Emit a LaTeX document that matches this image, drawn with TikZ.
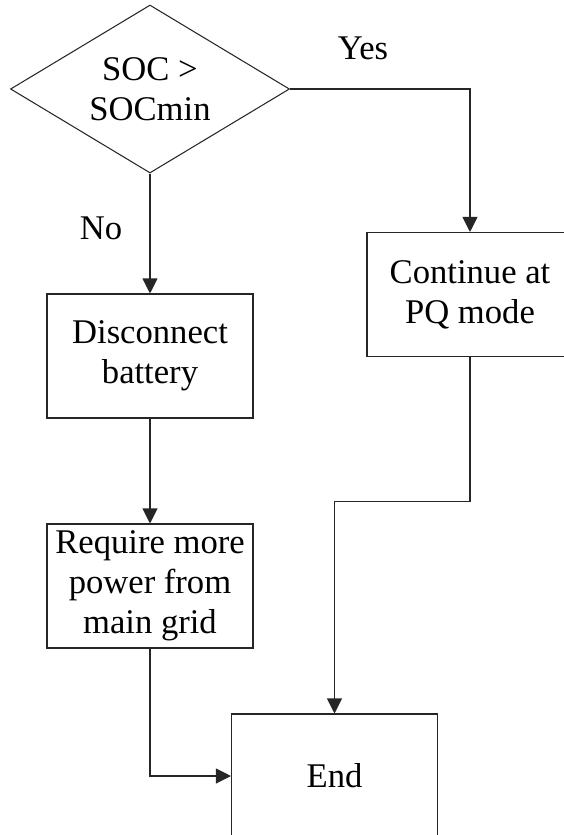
\documentclass[tikz,border=0pt]{standalone}
\usepackage{fontspec}
\setmainfont{Liberation Serif}
\usetikzlibrary{arrows.meta,shapes.geometric}

\begin{document}
\begin{tikzpicture}[
  dbox/.style = {draw=black!85, diamond, aspect=1.66, inner sep=0pt,
                 line width=0.6pt, minimum width=5.58cm,
                 minimum height=3.36cm, align=center,
                 font=\fontsize{19.7}{22.8}\selectfont},
  sbox/.style = {draw=black!85, line width=0.6pt, inner sep=2pt,
                 minimum width=4.12cm, minimum height=2.48cm,
                 align=center, font=\fontsize{19.7}{22.8}\selectfont},
  arr/.style  = {-{Triangle[length=0.3cm,width=0.3cm]},
                 line width=0.6pt, black!85},
  lbl/.style  = {font=\fontsize{19.7}{22.8}\selectfont},
]

\path[use as bounding box, clip] (0,0) rectangle (11.28,-16.7);

\node[dbox] (dec)  at (3.0, -1.78)  {SOC >\\SOCmin};
\node[sbox] (disc) at (3.0, -7.12)  {Disconnect\\battery};
\node[sbox] (req)  at (3.0, -11.72) {Require more\\power from\\main grid};
\node[sbox] (cont) at (9.4, -5.89)  {Continue at\\PQ mode};
\node[sbox] (done) at (6.69,-15.52) {End};

\node[lbl] (yes) at (7.26,-0.96) {Yes};
\node[lbl] (no)  at (2.02,-4.56) {No};

% decision branches
\draw[arr] (dec.east) -| (cont.north);
\draw[arr] (dec.south) -- (disc.north);
\draw[arr] (disc.south) -- (req.north);

% both paths end up in the same box
\draw[arr] (cont.south) -- ++(0,-2.88) -| (done.north);
\draw[arr] (req.south) |- (done.west);

\end{tikzpicture}
\end{document}
